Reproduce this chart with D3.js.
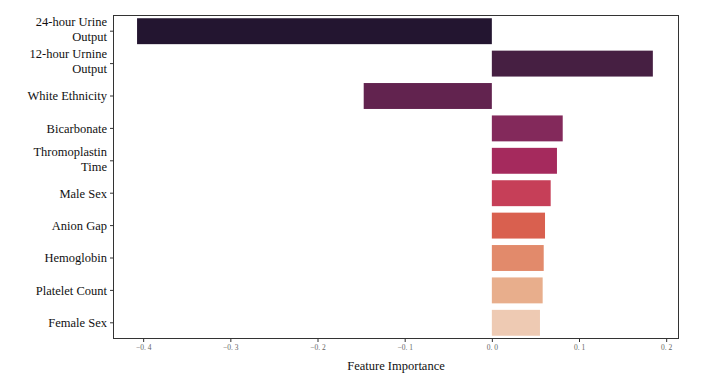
<!DOCTYPE html>
<html><head><meta charset="utf-8">
<script src="https://cdn.jsdelivr.net/npm/d3@7"></script>
<style>body{margin:0;background:#fff;}</style>
</head><body>
<script>
const features = ["24-hour Urine Output","12-hour Urnine Output","White Ethnicity","Bicarbonate","Thromoplastin Time","Male Sex","Anion Gap","Hemoglobin","Platelet Count","Female Sex"];
const featureLines = [["24-hour Urine","Output"],["12-hour Urnine","Output"],["White Ethnicity"],["Bicarbonate"],["Thromoplastin","Time"],["Male Sex"],["Anion Gap"],["Hemoglobin"],["Platelet Count"],["Female Sex"]];
const importance = [-0.407, 0.1847, -0.147, 0.0813, 0.0747, 0.0675, 0.061, 0.0595, 0.0583, 0.0552];
const colors = ["#231530","#461f42","#62234f","#83295b","#a52a5d","#c63f58","#d9604f","#e28a6b","#e8ae8c","#eecab3"];
const xTicks = [-0.4,-0.3,-0.2,-0.1,0.0,0.1,0.2];

const W=707,H=391;
const m={l:113,r:28,t:15,b:52};
const svg=d3.select("body").append("svg").attr("width",W).attr("height",H);
const x=d3.scaleLinear().domain([-0.4346,0.2147]).range([m.l,W-m.r]);
const y=d3.scaleBand().domain(features).range([m.t,H-m.b]).paddingInner(0.2).paddingOuter(0.1);
const serif="'Liberation Serif','Times New Roman',Times,serif";

svg.selectAll("rect.bar").data(features).enter().append("rect")
  .attr("class","bar")
  .attr("x",(d,i)=>x(Math.min(0,importance[i])))
  .attr("width",(d,i)=>Math.abs(x(importance[i])-x(0)))
  .attr("y",d=>y(d)).attr("height",y.bandwidth())
  .attr("fill",(d,i)=>colors[i]);

// frame
svg.append("rect").attr("x",m.l+0.5).attr("y",m.t+0.5)
  .attr("width",W-m.r-m.l-1).attr("height",H-m.b-m.t-1)
  .attr("fill","none").attr("stroke","#333").attr("stroke-width",1);

// x axis
const xa=svg.append("g").attr("transform",`translate(0,${H-m.b})`)
  .call(d3.axisBottom(x).tickValues(xTicks).tickSize(3).tickPadding(3)
    .tickFormat(d=>(d<0?"\u2212":"")+Math.abs(d).toFixed(1).replace(".",". ")));
xa.select(".domain").remove();
xa.selectAll("line").attr("stroke","#333");
xa.selectAll("text").attr("font-family",serif).attr("font-size","7.5px").attr("fill","#666");

// y axis
const ya=svg.append("g").attr("transform",`translate(${m.l},0)`)
  .call(d3.axisLeft(y).tickSize(3).tickFormat(""));
ya.select(".domain").remove();
ya.selectAll("line").attr("stroke","#333");
const lbl=svg.append("g");
features.forEach((f,i)=>{
  const lines=featureLines[i];
  const cy=y(f)+y.bandwidth()/2 - (lines.length>1?2:0);
  const lh=15;
  const t=lbl.append("text").attr("text-anchor","end")
    .attr("font-family",serif).attr("font-size","12.5px").attr("fill","#111");
  lines.forEach((ln,k)=>{
    t.append("tspan").attr("x",m.l-6)
     .attr("y",cy+(k-(lines.length-1)/2)*lh).attr("dy","0.35em").text(ln);
  });
});

svg.append("text").attr("x",(m.l+W-m.r)/2).attr("y",370).attr("text-anchor","middle")
  .attr("font-family",serif).attr("font-size","12.5px").attr("fill","#111")
  .text("Feature Importance");
</script>
</body></html>
